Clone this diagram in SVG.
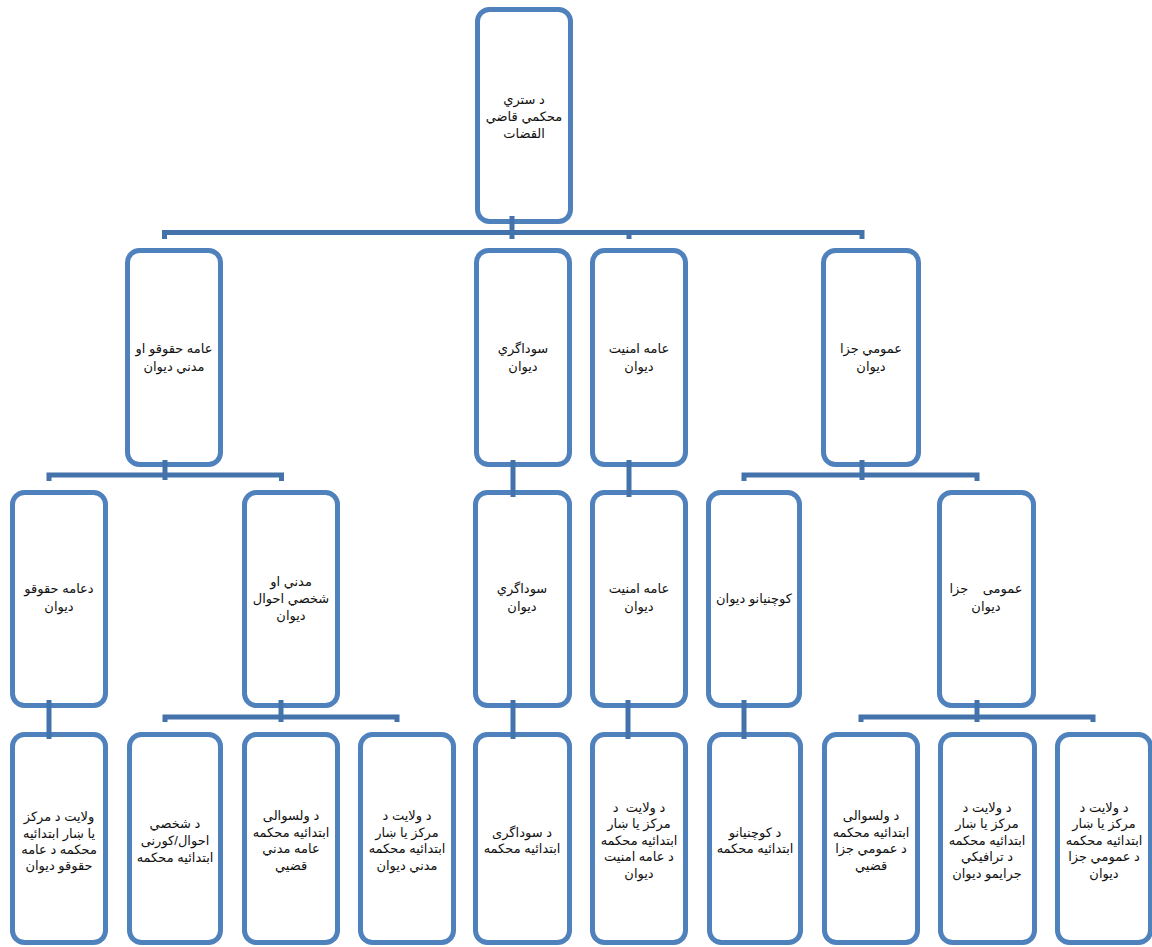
<svg xmlns="http://www.w3.org/2000/svg" width="1152" height="947" viewBox="0 0 1152 947">
<style>
.box{fill:#fff;stroke:#4f81bd;stroke-width:5}
.con{fill:none;stroke:#4472aa;stroke-width:5;stroke-linejoin:miter;stroke-linecap:butt}
text{font-family:"Liberation Sans","DejaVu Sans",sans-serif;font-size:13px;fill:#111;text-anchor:middle;direction:rtl;white-space:pre}
</style>
<rect width="1152" height="947" fill="#fff"/>
<g id="n-top"><rect class="box" x="477.5" y="9.5" width="93" height="212" rx="12"/>
<text x="524" y="104">د ستري</text><text x="524" y="121">محكمي قاضي</text><text x="524" y="138">القضات</text></g>

<g id="n-a"><rect class="box" x="127.5" y="250.5" width="93" height="214" rx="12"/>
<text x="174" y="353">عامه حقوقو او</text><text x="174" y="371">مدني ديوان</text></g>
<g id="n-b"><rect class="box" x="476.5" y="250.5" width="93" height="214" rx="12"/>
<text x="523" y="353">سوداگري</text><text x="523" y="371">ديوان</text></g>
<g id="n-c"><rect class="box" x="592.5" y="250.5" width="93" height="214" rx="12"/>
<text x="639" y="353">عامه امنيت</text><text x="639" y="371">ديوان</text></g>
<g id="n-d"><rect class="box" x="823.5" y="250.5" width="95" height="214" rx="12"/>
<text x="871" y="353">عمومي جزا</text><text x="871" y="371">ديوان</text></g>

<g id="n-e"><rect class="box" x="12.5" y="492.5" width="93" height="213" rx="12"/>
<text x="59" y="593">دعامه حقوقو</text><text x="59" y="611">ديوان</text></g>
<g id="n-f"><rect class="box" x="244.5" y="492.5" width="93" height="213" rx="12"/>
<text x="291" y="586">مدني او</text><text x="291" y="603">شخصي احوال</text><text x="291" y="620">ديوان</text></g>
<g id="n-g"><rect class="box" x="475.5" y="492.5" width="94" height="213" rx="12"/>
<text x="522" y="593">سوداگري</text><text x="522" y="611">ديوان</text></g>
<g id="n-h"><rect class="box" x="592.5" y="492.5" width="93" height="213" rx="12"/>
<text x="639" y="593">عامه امنيت</text><text x="639" y="611">ديوان</text></g>
<g id="n-i"><rect class="box" x="708.5" y="492.5" width="91" height="213" rx="12"/>
<text x="754" y="603">كوچنيانو ديوان</text></g>
<g id="n-j"><rect class="box" x="939.5" y="492.5" width="94" height="213" rx="12"/>
<text x="986" y="593">عمومی    جزا</text><text x="986" y="611">ديوان</text></g>

<g id="n-k"><rect class="box" x="12.5" y="734.5" width="93" height="208" rx="12"/>
<text x="59" y="821">ولايت د مركز</text><text x="59" y="838">يا ښار ابتدائيه</text><text x="59" y="854">محكمه د عامه</text><text x="59" y="870">حقوقو ديوان</text></g>
<g id="n-l"><rect class="box" x="129.5" y="734.5" width="91" height="208" rx="12"/>
<text x="175" y="828">د شخصي</text><text x="175" y="845">احوال/كورنى</text><text x="175" y="862">ابتدائيه محكمه</text></g>
<g id="n-m"><rect class="box" x="244.5" y="734.5" width="93" height="208" rx="12"/>
<text x="291" y="820">د ولسوالى</text><text x="291" y="837">ابتدائيه محكمه</text><text x="291" y="853">عامه مدني</text><text x="291" y="870">قضيي</text></g>
<g id="n-n"><rect class="box" x="360.5" y="734.5" width="93" height="208" rx="12"/>
<text x="407" y="820">د ولايت د</text><text x="407" y="837">مركز يا ښار</text><text x="407" y="853">ابتدائيه محكمه</text><text x="407" y="870">مدني ديوان</text></g>
<g id="n-o"><rect class="box" x="475.5" y="734.5" width="94" height="208" rx="12"/>
<text x="522" y="837">د سوداگرى</text><text x="522" y="853">ابتدائيه محكمه</text></g>
<g id="n-p"><rect class="box" x="592.5" y="734.5" width="93" height="208" rx="12"/>
<text x="639" y="812">د ولايت  د</text><text x="639" y="828">مركز يا ښار</text><text x="639" y="845">ابتدائيه محكمه</text><text x="639" y="861">د عامه امنيت</text><text x="639" y="878">ديوان</text></g>
<g id="n-q"><rect class="box" x="709.5" y="734.5" width="91" height="208" rx="12"/>
<text x="755" y="837">د كوچنيانو</text><text x="755" y="853">ابتدائيه محكمه</text></g>
<g id="n-r"><rect class="box" x="824.5" y="734.5" width="93" height="208" rx="12"/>
<text x="871" y="820">د ولسوالى</text><text x="871" y="837">ابتدائيه محكمه</text><text x="871" y="853">د عمومي جزا</text><text x="871" y="870">قضيي</text></g>
<g id="n-s"><rect class="box" x="940.5" y="734.5" width="94" height="208" rx="12"/>
<text x="987" y="812">د ولايت د</text><text x="987" y="828">مركز يا ښار</text><text x="987" y="845">ابتدائيه محكمه</text><text x="987" y="861">د ترافيكي</text><text x="987" y="878">جرايمو ديوان</text></g>
<g id="n-t"><rect class="box" x="1057.5" y="734.5" width="93" height="208" rx="12"/>
<text x="1104" y="812">د ولايت د</text><text x="1104" y="828">مركز يا ښار</text><text x="1104" y="845">ابتدائيه محكمه</text><text x="1104" y="861">د عمومي جزا</text><text x="1104" y="878">ديوان</text></g>

<g id="connectors">
<path class="con" d="M512 216V239"/>
<path class="con" d="M164.5 239V232.5H862"/>
<path class="con" d="M629 232V239M862 230V239"/>
<path class="con" d="M165 460V480"/>
<path class="con" d="M49 481V475H281.5V481"/>
<path class="con" d="M862 460V480"/>
<path class="con" d="M744 481V475H977V481"/>
<path class="con" d="M513 460V497"/>
<path class="con" d="M629 460V497"/>
<path class="con" d="M49 700V739"/>
<path class="con" d="M281 700V722"/>
<path class="con" d="M165 722V717H397V722"/>
<path class="con" d="M513 700V739"/>
<path class="con" d="M628 700V739"/>
<path class="con" d="M744 700V739"/>
<path class="con" d="M977 700V722"/>
<path class="con" d="M861 722V717H1093V722"/>
</g>
</svg>
